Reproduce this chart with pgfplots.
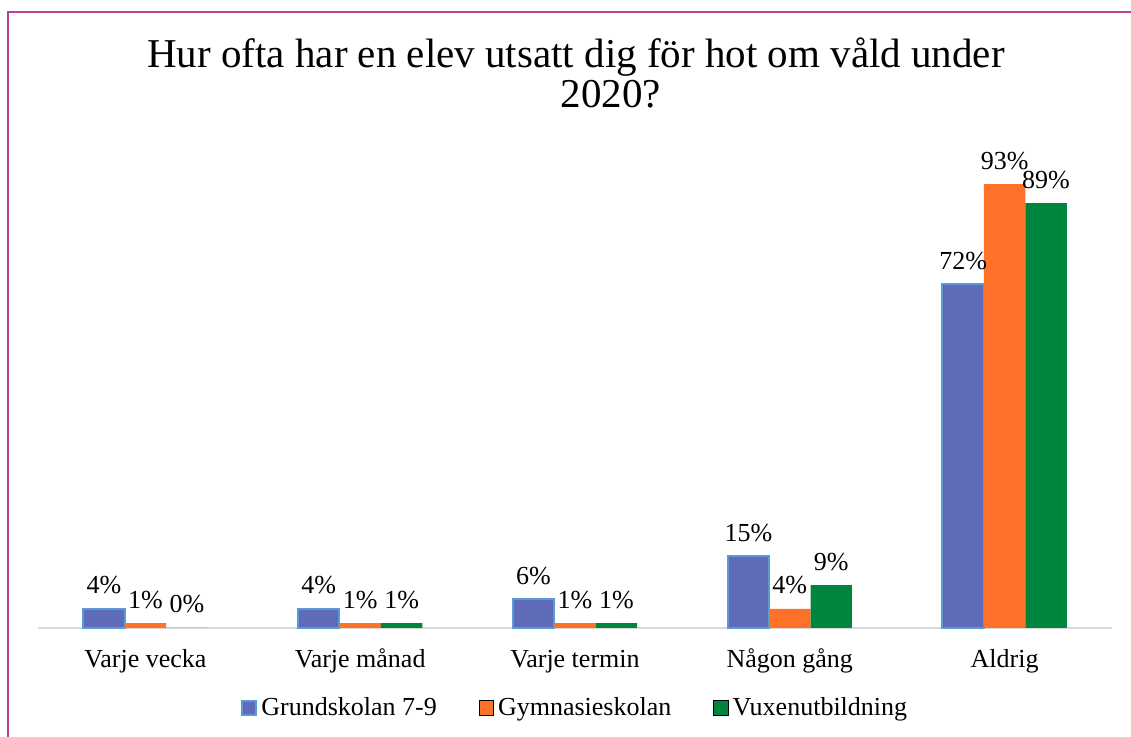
\documentclass[border=0pt]{standalone}
\usepackage{pgfplots}
\pgfplotsset{compat=1.18}
\usepackage{fontspec}
\setmainfont{Liberation Serif}
\definecolor{grund}{RGB}{95,106,185}
\definecolor{grundedge}{RGB}{91,155,213}
\definecolor{gymn}{RGB}{253,114,40}
\definecolor{vuxen}{RGB}{0,133,62}
\definecolor{ramfarg}{RGB}{190,65,150}

\begin{document}
\begin{tikzpicture}[x=0.5pt,y=0.5pt]
% 1 unit = 1 px of the reference; origin at the axis' bottom left corner
\path[use as bounding box] (-38,-109) rectangle (1093,628);
\begin{scope}
  \clip (-38,-109) rectangle (1093,628);
  \draw[ramfarg, line width=1pt] (-30,-130) -- (-30,616) -- (1120,616);
\end{scope}
\node[anchor=base, font=\fontsize{20.5}{24}\selectfont] at (538,560)
  {Hur ofta har en elev utsatt dig för hot om våld under};
\node[anchor=base, font=\fontsize{20.5}{24}\selectfont] at (573,520) {2020?};
\begin{axis}[
  at={(0,0)}, anchor=south west,
  scale only axis,
  width=537pt, height=238.7pt,
  ybar, bar width=0.193,
  xmin=-0.5, xmax=4.5,
  ymin=0, ymax=100,
  hide y axis,
  axis x line*=bottom,
  x axis line style={draw=black!15, line width=1pt, -},
  xtick={0,1,2,3,4},
  xticklabels={Varje vecka, Varje månad, Varje termin, Någon gång, Aldrig},
  major tick length=0pt,
  xticklabel style={font=\fontsize{13}{15}\selectfont, anchor=base, yshift=-20pt},
  clip=false,
  /pgf/number format/assume math mode=true,
  nodes near coords={\pgfmathprintnumber{\pgfplotspointmeta}\%},
  every node near coord/.append style={font=\fontsize{13}{15}\selectfont,
    anchor=base, inner sep=0pt, yshift=7.5pt, black},
  legend style={at={(0.501,-0.1676)}, anchor=center, draw=none,
    font=\fontsize{13}{15}\selectfont, legend columns=3,
    /tikz/every even column/.append style={column sep=19pt},
    /tikz/every odd column/.append style={column sep=0pt}},
  legend image code/.code={\draw[#1] (0pt,-3.6pt) rectangle (7.2pt,3.6pt);},
]
\addplot[fill=grund, draw=grundedge, line width=1pt, bar shift=-0.193]
  coordinates {(0,4) (1,4) (2,6) (3,15) (4,72)};
\addplot[fill=gymn, draw=none, bar shift=0]
  coordinates {(0,1) (1,1) (2,1) (3,4) (4,93)};
\addplot[fill=vuxen, draw=none, bar shift=0.193]
  coordinates {(0,0) (1,1) (2,1) (3,9) (4,89)};
\legend{Grundskolan 7-9, Gymnasieskolan, Vuxenutbildning}
\end{axis}
\end{tikzpicture}
\end{document}
